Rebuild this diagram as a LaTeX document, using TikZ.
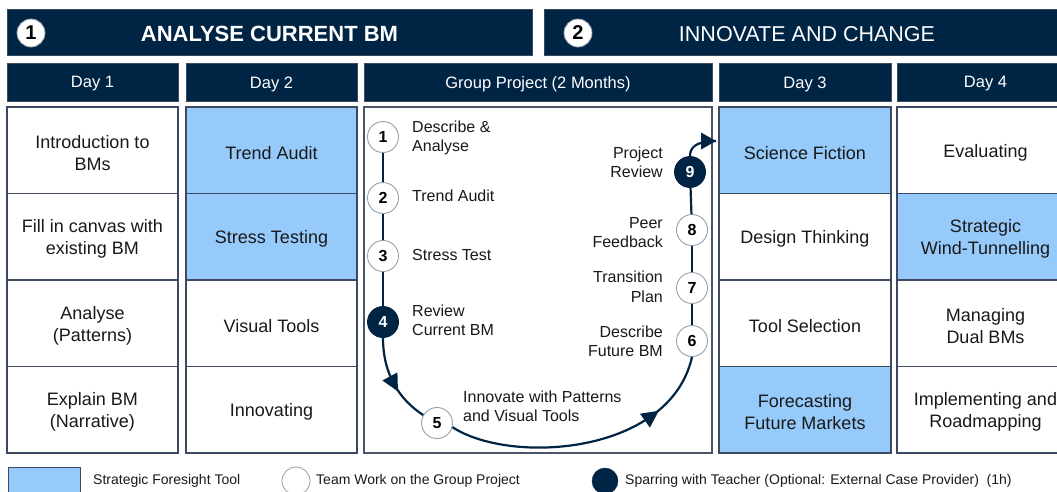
\documentclass[tikz,border=0pt]{standalone}
\usepackage{fontspec}
\setmainfont{Liberation Sans}
\usetikzlibrary{arrows.meta,decorations.markings}
\definecolor{navy}{RGB}{0,36,68}
\definecolor{fblue}{RGB}{150,202,250}
\definecolor{bordc}{RGB}{62,74,98}
\definecolor{circgray}{RGB}{150,158,172}
\definecolor{txt}{RGB}{25,25,25}
\newcommand\mytrimid{\fill[navy] (9pt,0pt) -- (-8pt,8.5pt) -- (-8pt,-8.5pt) -- cycle;}
\newcommand\mytriend{\fill[navy] (0pt,0pt) -- (-15pt,8.5pt) -- (-15pt,-8.5pt) -- cycle;}
\begin{document}
\begin{tikzpicture}[x=1pt,y=-1pt,
  banner/.style={rectangle,fill=navy,draw=navy!60!gray,line width=0.8pt,inner sep=0pt,outer sep=0pt},
  bantext/.style={inner sep=0pt,text=white,yshift=-1.5pt},
  dayhead/.style={rectangle,fill=navy,draw=navy!55!gray,line width=0.8pt,inner sep=0pt,outer sep=0pt,
     minimum height=38pt},
  headtext/.style={inner sep=0pt,text=white,font=\fontsize{16.5}{19}\selectfont,yshift=-2pt},
  cell/.style={rectangle,draw=bordc,line width=1.2pt,fill=white,inner sep=0pt,outer sep=0pt,minimum height=86.5pt},
  bcell/.style={cell,fill=fblue},
  celltext/.style={inner sep=0pt,align=center,text=txt,font=\fontsize{18}{22}\selectfont,yshift=-2.5pt},
  bnum/.style={circle,fill=white,draw=circgray,line width=0.8pt,minimum size=28pt,inner sep=0pt,text=black,
     font=\bfseries\fontsize{20}{20}\selectfont},
  numc/.style={circle,fill=white,draw=circgray,line width=0.9pt,minimum size=31pt,inner sep=0pt,text=black,
     font=\bfseries\fontsize{16}{16}\selectfont},
  numd/.style={numc,fill=navy,draw=navy,text=white},
  lbl/.style={inner sep=0pt,text=txt,font=\fontsize{16}{19.5}\selectfont},
  conn/.style={draw=navy,line width=2.2pt},
  leg/.style={inner sep=0pt,anchor=west,text=txt,font=\fontsize{14}{16}\selectfont},
  midarrow/.style={postaction={decorate},decoration={markings,
     mark=at position #1 with {\mytrimid}}},
  endarrow/.style={postaction={decorate},decoration={markings,
     mark=at position 1 with {\mytriend}}}
]
\useasboundingbox (0,0) rectangle (1057,491);
\fill[white] (0,0) rectangle (1057,491);

% banners
\node[banner,minimum width=525pt,minimum height=45.5pt] (ban1) at (269.5,32.25) {};
\node[bantext,font=\bfseries\fontsize{22}{24}\selectfont] (ban1t) at (ban1) {ANALYSE CURRENT BM};
\node[banner,minimum width=526pt,minimum height=45.5pt] (ban2) at (807,32.25) {};
\node[bantext,font=\fontsize{21.5}{24}\selectfont] (ban2t) at (ban2) {INNOVATE AND CHANGE};
\node[bnum] (b1) at (31,33) {1};
\node[bnum] (b2) at (578,33) {2};

% day headers
\node[dayhead,minimum width=171pt] (h1) at (92.5,82) {};
\node[dayhead,minimum width=171pt] (h2) at (271.5,82) {};
\node[dayhead,minimum width=348pt] (hg) at (538,82) {};
\node[dayhead,minimum width=172pt] (h3) at (805,82) {};
\node[dayhead,minimum width=177pt] (h4) at (985.5,82) {};
\node[headtext] (h1t) at (h1) {Day 1};
\node[headtext] (h2t) at (h2) {Day 2};
\node[headtext] (hgt) at (hg) {Group Project (2 Months)};
\node[headtext] (h3t) at (h3) {Day 3};
\node[headtext] (h4t) at (h4) {Day 4};

% Day 1
\node[cell,minimum width=171pt] (d1a) at (92.5,150.25) {};
\node[cell,minimum width=171pt] (d1b) at (92.5,236.75) {};
\node[cell,minimum width=171pt] (d1c) at (92.5,323.25) {};
\node[cell,minimum width=171pt] (d1d) at (92.5,409.75) {};
\node[celltext] (t1a) at (d1a) {Introduction to\\BMs};
\node[celltext] (t1b) at (d1b) {Fill in canvas with\\existing BM};
\node[celltext] (t1c) at (d1c) {Analyse\\(Patterns)};
\node[celltext] (t1d) at (d1d) {Explain BM\\(Narrative)};
% Day 2
\node[bcell,minimum width=171pt] (d2a) at (271.5,150.25) {};
\node[bcell,minimum width=171pt] (d2b) at (271.5,236.75) {};
\node[cell,minimum width=171pt] (d2c) at (271.5,323.25) {};
\node[cell,minimum width=171pt] (d2d) at (271.5,409.75) {};
\node[celltext] (t2a) at (d2a) {Trend Audit};
\node[celltext] (t2b) at (d2b) {Stress Testing};
\node[celltext] (t2c) at (d2c) {Visual Tools};
\node[celltext] (t2d) at (d2d) {Innovating};
% Day 3
\node[bcell,minimum width=172pt] (d3a) at (805,150.25) {};
\node[cell,minimum width=172pt] (d3b) at (805,236.75) {};
\node[cell,minimum width=172pt] (d3c) at (805,323.25) {};
\node[bcell,minimum width=172pt] (d3d) at (805,409.75) {};
\node[celltext] (t3a) at (d3a) {Science Fiction};
\node[celltext] (t3b) at (d3b) {Design Thinking};
\node[celltext] (t3c) at (d3c) {Tool Selection};
\node[celltext] (t3d) at (d3d) {Forecasting\\Future Markets};
% Day 4
\node[cell,minimum width=177pt] (d4a) at (985.5,150.25) {};
\node[bcell,minimum width=177pt] (d4b) at (985.5,236.75) {};
\node[cell,minimum width=177pt] (d4c) at (985.5,323.25) {};
\node[cell,minimum width=177pt] (d4d) at (985.5,409.75) {};
\node[celltext] (t4a) at (d4a) {Evaluating};
\node[celltext] (t4b) at (d4b) {Strategic\\Wind-Tunnelling};
\node[celltext] (t4c) at (d4c) {Managing\\Dual BMs};
\node[celltext] (t4d) at (d4d) {Implementing and\\Roadmapping};

% group project box
\node[rectangle,draw=bordc!80!gray,line width=1.2pt,fill=white,minimum width=348pt,minimum height=346pt,inner sep=0pt] (gp) at (538,280) {};

% circles
\node[numc] (c1) at (383,137) {1};
\node[numc] (c2) at (383,198) {2};
\node[numc] (c3) at (383,256) {3};
\node[numd] (c4) at (383,322) {4};
\node[numc] (c5) at (437,423) {5};
\node[numc] (c6) at (692,341) {6};
\node[numc] (c7) at (692,288) {7};
\node[numc] (c8) at (692,230) {8};
\node[numd] (c9) at (690,172) {9};

% connectors
\draw[conn] (c1) -- (c2);
\draw[conn] (c2) -- (c3);
\draw[conn] (c3) -- (c4);
\draw[conn,midarrow=0.52] (c4.south) .. controls (383,375) and (400,400) .. (c5.150);
\draw[conn,midarrow=0.74] (c5.-15) .. controls (510,465) and (670,455) .. (c6.south);
\draw[conn] (c6) -- (c7);
\draw[conn] (c7) -- (c8);
\draw[conn] (c8) -- (c9);
\coordinate (a9) at (716,141);
\draw[conn,endarrow] (c9.north) .. controls (690,149) and (694,141) .. (a9);

% labels
\node[lbl,anchor=west,align=left] (l1) at (412,138) {Describe \&\\Analyse};
\node[lbl,anchor=west,align=left] (l2) at (412,196) {Trend Audit};
\node[lbl,anchor=west,align=left] (l3) at (412,255) {Stress Test};
\node[lbl,anchor=west,align=left] (l4) at (412,320.5) {Review\\Current BM};
\node[lbl,anchor=west,align=left] (l5) at (463,406.5) {Innovate with Patterns\\and Visual Tools};
\node[lbl,anchor=east,align=right] (l9) at (663,162.5) {Project\\Review};
\node[lbl,anchor=east,align=right] (l8) at (663,232.5) {Peer\\Feedback};
\node[lbl,anchor=east,align=right] (l7) at (663,287) {Transition\\Plan};
\node[lbl,anchor=east,align=right] (l6) at (663,341.5) {Describe\\Future BM};

% legend
\node[rectangle,fill=fblue,draw=bordc,line width=1pt,minimum width=72pt,minimum height=28pt,inner sep=0pt] (lg1) at (44,481) {};
\node[leg] (lt1) at (93,481) {Strategic Foresight Tool};
\node[circle,fill=white,draw=circgray,line width=0.8pt,minimum size=28pt,inner sep=0pt] (lg2) at (296,481) {};
\node[leg] (lt2) at (316,481) {Team Work on the Group Project};
\node[circle,fill=navy,draw=navy,minimum size=26pt,inner sep=0pt] (lg3) at (605,481) {};
\node[leg] (lt3) at (625,481) {Sparring with Teacher (Optional: External Case Provider)\ \ (1h)};
\end{tikzpicture}
\end{document}
